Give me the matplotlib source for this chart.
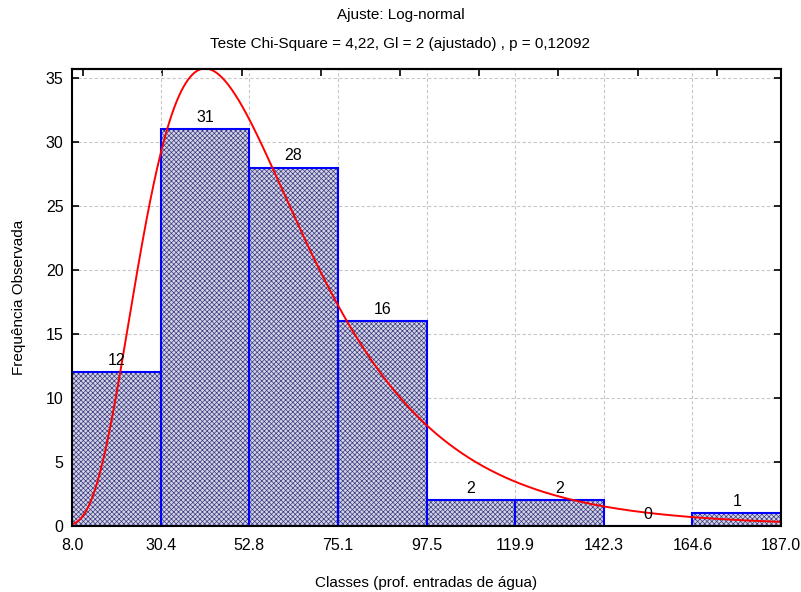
import numpy as np
import matplotlib
matplotlib.use("Agg")
import matplotlib.pyplot as plt

edges = [8.0, 30.375, 52.75, 75.125, 97.5, 119.875, 142.25, 164.625, 187.0]
edge_labels = ["8.0", "30.4", "52.8", "75.1", "97.5", "119.9", "142.3", "164.6", "187.0"]
counts = [12, 31, 28, 16, 2, 2, 0, 1]
# fitted log-normal parameters
mu = 3.968
sigma = 0.49
top_ticks = [10.8, 30.8, 50.8, 70.8, 90.8, 110.8, 130.8, 150.8, 170.8]

plt.rcParams['font.family'] = ['Liberation Sans', 'DejaVu Sans']
plt.rcParams['hatch.linewidth'] = 0.5

fig = plt.figure(figsize=(8.01, 5.92), dpi=100)
ax = fig.add_axes([72/801, 66/592, 709/801, 457/592])

widths = np.diff(edges)
# hatched fill (hatch colour follows edgecolor)
ax.bar(edges[:-1], counts, width=widths, align='edge', facecolor='#d4d4e6',
       edgecolor='#3a3a80', linewidth=0, hatch='xxxxxxx', zorder=2)
# blue outlines
ax.bar(edges[:-1], counts, width=widths, align='edge', facecolor='none',
       edgecolor='#0000ff', linewidth=1.5, zorder=2.5)

for l, w, c in zip(edges[:-1], widths, counts):
    ax.text(l + w/2, c + 0.35, str(c), ha='center', va='bottom', fontsize=11.5, zorder=4)

N = sum(counts)
bw = widths[0]
x = np.linspace(edges[0], edges[-1], 600)
pdf = np.exp(-(np.log(x) - mu)**2 / (2*sigma**2)) / (x * sigma * np.sqrt(2*np.pi))
ax.plot(x, N*bw*pdf, color='#ff0000', lw=1.4, zorder=3)

ax.set_xlim(edges[0], edges[-1])
ax.set_ylim(0, 35.7)
ax.set_xticks(edges)
ax.set_xticklabels(edge_labels)
ax.set_yticks(range(0, 36, 5))
ax.tick_params(axis='both', direction='in', length=5, width=1.2, labelsize=11.5, pad=6,
               right=True, top=False)
ax.tick_params(axis='x', pad=9)
ax.grid(True, color='#c8c8c8', linestyle=(0, (3, 2)), linewidth=0.8, zorder=0)
ax.set_axisbelow(True)
for s in ax.spines.values():
    s.set_linewidth(1.5)
    s.set_zorder(5)

sec = ax.secondary_xaxis('top')
sec.set_xticks(top_ticks)
sec.tick_params(direction='in', length=5, width=1.2, labeltop=False)
sec.spines['top'].set_linewidth(1.5)

ax.set_xlabel("Classes (prof. entradas de água)", fontsize=11, labelpad=16)
ax.set_ylabel("Frequência Observada", fontsize=11, labelpad=14)

fig.text(0.5, 1 - 15/592, "Ajuste: Log-normal", ha='center', va='center', fontsize=11)
fig.text(0.5, 1 - 44/592, "Teste Chi-Square = 4,22, Gl = 2 (ajustado) , p = 0,12092",
         ha='center', va='center', fontsize=11)

fig.savefig("out.png", dpi=100)
